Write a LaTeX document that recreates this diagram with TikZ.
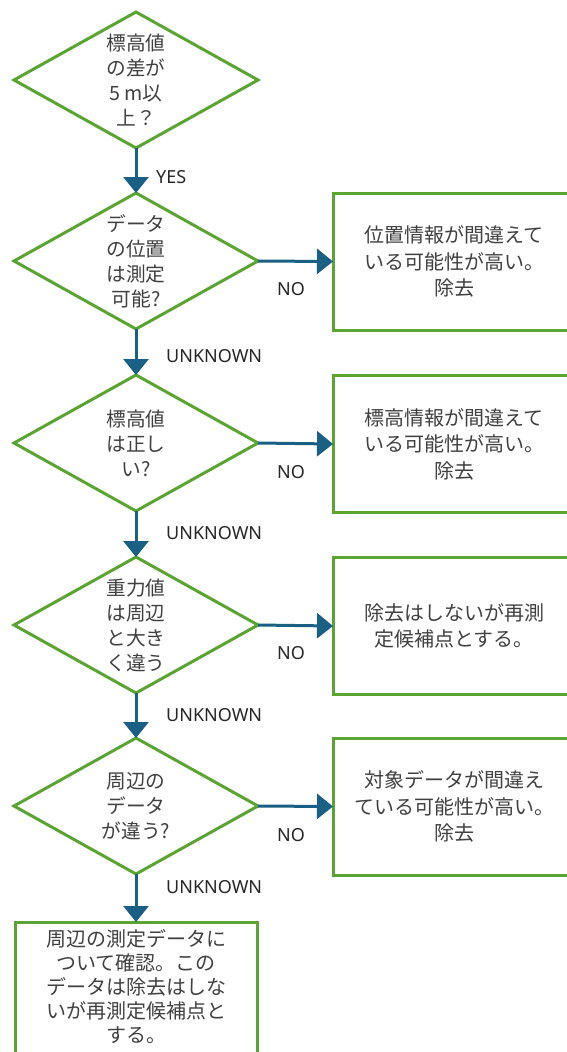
\documentclass[tikz,border=0pt]{standalone}
\usepackage{fontspec}
\setmainfont{Noto Sans CJK JP}
\newfontfamily\latinfont{Noto Sans}
\usetikzlibrary{shapes.geometric,arrows.meta}
\definecolor{flowgreen}{HTML}{5AA532}
\definecolor{flowblue}{HTML}{1A5F84}
\definecolor{txtgray}{HTML}{404040}
\tikzset{
 decision/.style={diamond, draw=flowgreen, line width=3pt, minimum width=244pt, minimum height=136pt, inner sep=0pt, outer sep=0pt},
 outcome/.style={rectangle, draw=flowgreen, line width=3pt, minimum width=242pt, minimum height=137pt, inner sep=0pt, outer sep=0pt},
 dtext/.style={align=center, text=txtgray, font=\fontsize{19.7}{25}\selectfont, inner sep=0pt},
 btext/.style={align=center, text=txtgray, font=\fontsize{20}{26.5}\selectfont, inner sep=0pt},
 ltext/.style={align=center, text=txtgray, font=\fontsize{20}{24}\selectfont, inner sep=0pt},
 flow/.style={draw=flowblue, line width=3pt, -{Triangle[length=16pt,width=25pt]}},
 lbl/.style={font=\latinfont\fontsize{18}{20}\selectfont, text=black!85, inner sep=0pt},
}
\begin{document}
\begin{tikzpicture}[x=1pt,y=-1pt]
\useasboundingbox (0,0) rectangle (567,1052);
\clip (0,0) rectangle (567,1052);
\fill[white] (0,0) rectangle (567,1052);
% decisions
\node[decision] (d1) at (136,80) {};
\node[decision] (d2) at (136,261) {};
\node[decision] (d3) at (136,443) {};
\node[decision] (d4) at (136,625) {};
\node[decision] (d5) at (136,806) {};
\node[dtext] (t1) at (d1) {標高値\\の差が\\5 m以\\上？};
\node[dtext] (t2) at (d2) {データ\\の位置\\は測定\\可能?};
\node[dtext] (t3) at (d3) {標高値\\は正し\\い?};
\node[dtext] (t4) at (d4) {重力値\\は周辺\\と大き\\く違う};
\node[dtext] (t5) at (d5) {周辺の\\データ\\が違う?};
% outcomes
\node[outcome] (r1) at (454,261.5) {};
\node[outcome] (r2) at (454,444) {};
\node[outcome] (r3) at (454,626) {};
\node[outcome] (r4) at (454,806.5) {};
\node[outcome] (r5) at (136,992) [minimum height=140pt] {};
\node[btext] (u1) at (r1) {位置情報が間違えて\\いる可能性が高い。\\除去};
\node[btext] (u2) at (r2) {標高情報が間違えて\\いる可能性が高い。\\除去};
\node[btext] (u3) at (r3) {除去はしないが再測\\定候補点とする。};
\node[btext] (u4) at (r4) {対象データが間違え\\ている可能性が高い。\\除去};
\node[ltext] (u5) at (136,987) {周辺の測定データに\\ついて確認。この\\データは除去はしな\\いが再測定候補点と\\する。};
% connectors
\draw[flow] (d1.south) -- (d2.north);
\draw[flow] (d2.south) -- (d3.north);
\draw[flow] (d3.south) -- (d4.north);
\draw[flow] (d4.south) -- (d5.north);
\draw[flow] (d5.south) -- (r5.north);
\draw[flow] (d2.east) -- (r1.west);
\draw[flow] (d3.east) -- (r2.west);
\draw[flow] (d4.east) -- (r3.west);
\draw[flow] (d5.east) -- (r4.west);
% labels
\node[lbl, anchor=west] (yes) at (156,177) {YES};
\node[lbl] (no1) at (291,289) {NO};
\node[lbl] (no2) at (291,472) {NO};
\node[lbl] (no3) at (291,653) {NO};
\node[lbl] (no4) at (291,835) {NO};
\node[lbl, anchor=west] (un1) at (166,356) {UNKNOWN};
\node[lbl, anchor=west] (un2) at (166,533) {UNKNOWN};
\node[lbl, anchor=west] (un3) at (166,715) {UNKNOWN};
\node[lbl, anchor=west] (un4) at (166,887) {UNKNOWN};
\end{tikzpicture}
\end{document}
